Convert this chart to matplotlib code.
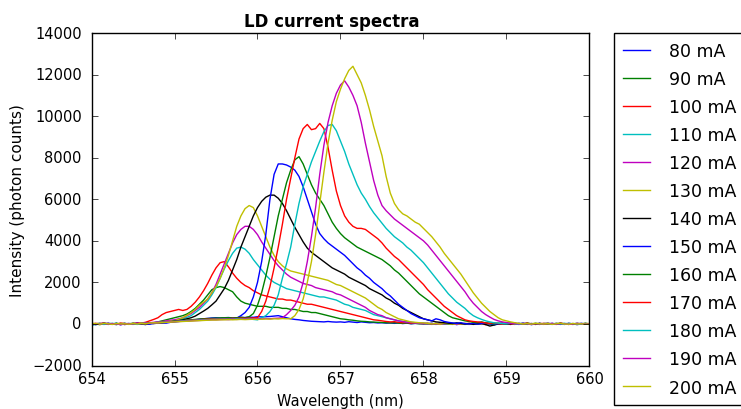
import numpy as np
import matplotlib
matplotlib.use("Agg")
import matplotlib.pyplot as plt

# Wavelength grid (nm), 0.05 nm steps from 654 to 660
wavelength = np.round(np.arange(654.0, 660.0001, 0.05), 2)

currents = ["80 mA", "90 mA", "100 mA", "110 mA", "120 mA", "130 mA", "140 mA",
            "150 mA", "160 mA", "170 mA", "180 mA", "190 mA", "200 mA"]

# Measured intensities (photon counts), one list per drive current
i80 = [20, -30, 10, 40, -20, 0, 30, -40, 10, 20,
       -10, 30, 0, -30, 20, 50, 30, 60, 40, 80,
       100, 120, 150, 130, 180, 200, 230, 250, 270, 290,
       300, 290, 300, 310, 290, 300, 320, 310, 330, 320,
       350, 340, 350, 360, 380, 400, 350, 300, 250, 220,
       200, 170, 150, 130, 120, 110, 100, 120, 100, 90,
       100, 80, 110, 90, 70, 100, 80, 60, 70, 50,
       60, 40, 50, 30, 50, 20, 40, 10, 30, 20,
       0, 20, -20, 10, 30, -10, 0, 20, -30, 10,
       0, -20, 30, 10, -10, 20, 0, -40, 10, 30,
       0, -20, 10, 30, -10, 20, -30, 0, 20, -10,
       10, -20, 30, 0, -10, 20, 10, -30, 0, 20,
       0]
i90 = [-20, 10, 30, -10, 20, 0, -30, 20, 10, -10,
       30, 0, 20, 40, 10, 60, 100, 150, 200, 250,
       300, 350, 400, 480, 600, 750, 950, 1150, 1400, 1650,
       1750, 1800, 1750, 1650, 1550, 1300, 1100, 1000, 950, 900,
       850, 850, 850, 800, 800, 800, 750, 750, 700, 700,
       650, 600, 600, 550, 550, 500, 450, 400, 350, 300,
       250, 230, 200, 180, 150, 130, 120, 100, 90, 80,
       70, 60, 50, 60, 40, 30, 50, 20, 30, 10,
       20, 0, 30, -20, 10, 20, -10, 0, 30, 10,
       -20, 10, 30, 0, -10, 20, 10, -20, 0, 30,
       10, -10, 20, 0, 30, -20, 10, 0, -10, 20,
       30, 0, -20, 10, 20, -10, 0, 30, 10, -10,
       10]
i100 = [30, -10, 20, 40, 0, -20, 10, 30, 20, 0,
        20, 50, 40, 80, 150, 220, 300, 450, 550, 600,
        650, 700, 650, 700, 850, 1050, 1300, 1600, 1950, 2350,
        2700, 2950, 3000, 2750, 2450, 2200, 2000, 1850, 1750, 1600,
        1500, 1400, 1350, 1300, 1250, 1200, 1200, 1150, 1150, 1100,
        1050, 1000, 950, 950, 900, 850, 800, 750, 700, 650,
        600, 550, 500, 450, 400, 350, 300, 250, 200, 180,
        150, 120, 100, 110, 80, 60, 70, 40, 50, 30,
        20, 40, 0, 30, -20, 10, 30, 0, 20, -10,
        10, 30, -10, 20, 0, -30, 10, 20, 0, -10,
        20, 0, 30, -10, 10, 40, 0, -20, 10, 30,
        0, 20, -10, 30, 10, 0, 20, -20, 10, 0,
        20]
i110 = [-50, -30, 0, 20, -20, 10, 30, -10, 0, 20,
        10, -20, 30, 0, 40, 60, 80, 100, 120, 140,
        150, 200, 250, 320, 400, 550, 700, 900, 1100, 1400,
        1750, 2200, 2650, 3050, 3400, 3650, 3700, 3600, 3400, 3100,
        2850, 2600, 2350, 2150, 2000, 1900, 1800, 1700, 1650, 1600,
        1550, 1500, 1450, 1400, 1350, 1300, 1300, 1250, 1200, 1150,
        1050, 950, 900, 800, 750, 700, 650, 550, 450, 400,
        350, 300, 250, 200, 150, 120, 100, 80, 60, 50,
        40, 20, 30, 0, 20, -10, 10, 30, 0, 20,
        -10, 10, 20, 0, -20, 10, 30, 0, -10, 20,
        0, 20, -10, 10, 30, 0, -20, 10, 20, 0,
        10, -10, 20, 0, 30, 10, -20, 0, 20, 10,
        0]
i120 = [0, 20, -20, 10, 30, -10, 0, 20, -30, 10,
        20, 0, 30, 50, 60, 80, 100, 120, 150, 180,
        200, 250, 300, 400, 500, 650, 800, 1000, 1200, 1500,
        1900, 2400, 2900, 3400, 3900, 4300, 4550, 4700, 4700, 4550,
        4300, 3950, 3650, 3350, 3050, 2800, 2600, 2400, 2250, 2150,
        2050, 1950, 1900, 1850, 1750, 1700, 1650, 1600, 1550, 1450,
        1400, 1300, 1200, 1100, 1000, 900, 800, 650, 550, 450,
        400, 300, 250, 200, 150, 120, 90, 70, 50, 40,
        30, 10, 30, -10, 20, 0, 30, 10, -20, 10,
        20, 0, -10, 30, 10, -20, 0, 20, 10, -10,
        0, 30, 10, -20, 10, 0, 20, -10, 30, 0,
        -10, 20, 0, 10, -20, 30, 0, 10, -10, 20,
        0]
i130 = [40, 10, -20, 30, 0, 20, -10, 30, 10, 0,
        -20, 10, 30, 40, 20, 50, 70, 90, 110, 130,
        150, 220, 300, 420, 550, 700, 900, 1050, 1200, 1500,
        1800, 2200, 2700, 3300, 4000, 4700, 5200, 5550, 5700, 5600,
        5200, 4700, 4200, 3700, 3300, 3000, 2800, 2650, 2550, 2500,
        2450, 2400, 2350, 2300, 2250, 2200, 2150, 2100, 2000, 1900,
        1850, 1750, 1650, 1550, 1450, 1350, 1250, 1100, 950, 800,
        700, 550, 450, 350, 250, 200, 150, 100, 80, 60,
        50, 30, 0, 20, -10, 30, 10, -20, 20, 0,
        30, 10, -10, 20, 0, 30, -20, 10, 0, 20,
        -10, 10, 30, 0, 20, -10, 10, 40, 0, -20,
        20, 0, 30, 10, -10, 20, 0, -20, 10, 30,
        10]
i140 = [10, -20, 0, 30, 10, -10, 20, 0, 30, -10,
        0, 20, 10, -20, 30, 20, 40, 60, 80, 100,
        130, 160, 200, 250, 300, 380, 500, 620, 750, 920,
        1100, 1400, 1700, 2100, 2600, 3100, 3700, 4200, 4700, 5200,
        5600, 5900, 6100, 6200, 6200, 6050, 5800, 5450, 5050, 4650,
        4300, 3950, 3650, 3450, 3300, 3150, 3000, 2850, 2700, 2600,
        2500, 2400, 2250, 2150, 2050, 1950, 1850, 1700, 1600, 1500,
        1400, 1250, 1150, 1000, 900, 750, 650, 550, 450, 350,
        250, 200, 150, 100, 80, 60, 40, 20, 50, 30,
        0, 20, -20, 10, 30, -30, -100, -50, 0, 20,
        10, -20, 30, 0, 10, -10, 20, 0, -20, 10,
        20, 0, -10, 30, 0, 10, -20, 20, 0, 10,
        -10]
i150 = [-40, 0, 20, -10, 30, 10, -20, 0, 20, -10,
        10, 30, 0, 20, -10, 30, 50, 60, 80, 100,
        120, 130, 150, 170, 180, 200, 200, 220, 230, 240,
        250, 240, 250, 260, 250, 280, 400, 550, 800, 1300,
        2000, 3000, 4300, 6000, 7200, 7700, 7700, 7650, 7550, 7400,
        7100, 6600, 6000, 5400, 4800, 4350, 4100, 3900, 3750, 3600,
        3450, 3300, 3100, 2900, 2700, 2550, 2350, 2200, 2000, 1850,
        1700, 1500, 1350, 1150, 950, 800, 650, 500, 400, 300,
        250, 200, 150, 250, 200, 120, 80, 50, 30, 60,
        20, 0, 30, -10, 20, 40, 0, -20, 10, 30,
        0, 20, -10, 10, 30, 0, -20, 10, 20, -10,
        10, 30, 0, -20, 10, 20, 0, -10, 30, 0,
        10]
i160 = [20, 0, -30, 10, 20, -10, 30, 0, -20, 10,
        30, 10, -10, 20, 40, 30, 60, 70, 90, 110,
        130, 150, 170, 190, 200, 220, 240, 250, 260, 270,
        280, 290, 300, 300, 290, 300, 320, 300, 350, 500,
        900, 1500, 2300, 3200, 4200, 5200, 6000, 6800, 7400, 7900,
        8050, 7700, 7200, 6700, 6300, 6000, 5700, 5300, 4900, 4600,
        4350, 4150, 4000, 3850, 3700, 3600, 3500, 3400, 3300, 3200,
        3100, 2950, 2800, 2600, 2450, 2250, 2050, 1850, 1650, 1450,
        1300, 1150, 1000, 850, 700, 550, 400, 300, 250, 200,
        150, 120, 80, 60, 100, 50, 30, 0, 40, 20,
        0, 30, -10, 20, 0, 40, 10, -20, 30, 0,
        20, -10, 10, 30, 0, -20, 20, 10, 0, 30,
        10]
i170 = [0, 30, 10, -20, 20, 0, -10, 30, 10, -20,
        20, 0, 30, 10, 40, 50, 60, 80, 90, 110,
        120, 140, 150, 170, 180, 200, 210, 220, 230, 240,
        250, 250, 260, 250, 270, 260, 280, 270, 280, 290,
        300, 600, 1100, 1800, 2700, 3700, 4800, 6000, 7000, 8000,
        8900, 9400, 9600, 9350, 9400, 9650, 9400, 8500, 7400, 6400,
        5700, 5200, 4900, 4700, 4600, 4600, 4550, 4400, 4250, 4100,
        3900, 3650, 3450, 3250, 3100, 2900, 2700, 2500, 2300, 2100,
        1900, 1650, 1450, 1250, 1050, 850, 700, 550, 400, 300,
        200, 150, 120, 100, 80, 50, 30, 60, 20, 0,
        30, 10, -20, 20, 0, 30, -10, 10, 20, 0,
        -10, 20, 0, 30, 10, -20, 10, 0, 20, -10,
        10]
i180 = [-30, 0, 20, -20, 10, 30, 0, -10, 20, 10,
        0, -20, 30, 20, 40, 50, 70, 80, 100, 110,
        120, 130, 150, 160, 170, 180, 190, 200, 210, 220,
        230, 230, 240, 230, 240, 250, 250, 240, 250, 220,
        200, 300, 400, 600, 900, 1400, 2200, 2900, 3700, 4800,
        5800, 6600, 7200, 7800, 8300, 8800, 9250, 9550, 9600, 9300,
        8800, 8300, 7700, 7200, 6700, 6300, 6000, 5650, 5350, 5100,
        4850, 4600, 4400, 4200, 4050, 3900, 3700, 3550, 3350, 3150,
        2950, 2700, 2450, 2200, 1950, 1700, 1450, 1250, 1050, 900,
        750, 550, 400, 300, 220, 150, 100, 60, 40, 20,
        10, 40, 0, -20, 20, 10, -10, 30, 0, 20,
        10, -10, 20, 0, -20, 30, 10, 0, -10, 20,
        0]
i190 = [10, -20, 0, 30, -10, 20, 0, -30, 10, 20,
        0, 30, 10, 40, 30, 50, 60, 70, 90, 100,
        110, 120, 130, 140, 150, 160, 170, 180, 190, 200,
        200, 210, 220, 210, 230, 220, 230, 240, 230, 250,
        250, 240, 260, 250, 270, 280, 300, 450, 650, 900,
        1300, 2000, 3000, 4200, 5600, 7200, 8600, 9700, 10500, 11100,
        11500, 11700, 11400, 11000, 10500, 9700, 8700, 7800, 6900, 6200,
        5700, 5450, 5250, 5050, 4900, 4750, 4600, 4450, 4300, 4150,
        4000, 3800, 3550, 3300, 3050, 2800, 2550, 2300, 2050, 1800,
        1550, 1250, 1000, 800, 600, 450, 330, 220, 150, 100,
        70, 40, 20, 0, 30, 10, -20, 20, 0, 10,
        30, 0, -10, 20, 10, -20, 0, 30, 10, 0,
        20]
i200 = [0, 20, -10, 30, 10, -20, 20, 0, 10, -10,
        20, 0, 30, 10, 40, 60, 50, 70, 80, 90,
        100, 110, 120, 130, 140, 150, 160, 170, 180, 190,
        190, 200, 200, 210, 200, 210, 220, 210, 220, 230,
        220, 230, 240, 230, 250, 240, 260, 250, 250, 400,
        700, 1200, 2000, 3000, 4300, 5800, 7300, 8700, 9800, 10700,
        11300, 11800, 12200, 12400, 12000, 11600, 11000, 10300, 9500, 8800,
        8100, 7100, 6300, 5800, 5500, 5300, 5200, 5050, 4900, 4800,
        4600, 4400, 4200, 3950, 3700, 3400, 3150, 2900, 2650, 2400,
        2100, 1800, 1500, 1250, 1000, 800, 600, 450, 300, 200,
        150, 100, 60, 30, 0, 20, -10, 30, 10, 0,
        20, -20, 10, 30, 0, -10, 20, 0, 10, -10,
        0]

spectra = [i80, i90, i100, i110, i120, i130, i140,
           i150, i160, i170, i180, i190, i200]

x_ticks = [654, 655, 656, 657, 658, 659, 660]
y_ticks = [-2000, 0, 2000, 4000, 6000, 8000, 10000, 12000, 14000]

plt.style.use("classic")
plt.rcParams["figure.facecolor"] = "white"
plt.rcParams["savefig.facecolor"] = "white"
plt.rcParams["font.family"] = ["DejaVu Sans"]

fig = plt.figure(figsize=(7.41, 4.10), dpi=100)
ax = fig.add_axes([0.1235, 0.106, 0.672, 0.811])

for label, counts in zip(currents, spectra):
    ax.plot(wavelength, counts, linewidth=1.0, label=label)

ax.set_xlim(654, 660)
ax.set_ylim(-2000, 14000)
ax.set_xticks(x_ticks)
ax.set_yticks(y_ticks)
ax.tick_params(labelsize=10.5)
ax.tick_params(axis="y", pad=7)
ax.set_xlabel("Wavelength (nm)", fontsize=10.5)
ax.set_ylabel("Intensity (photon counts)", fontsize=11)
ax.set_title("LD current spectra", fontsize=12, fontweight="bold", x=0.482)

ax.legend(bbox_to_anchor=(1.05, 1), loc="upper left", borderaxespad=0,
          fontsize=12.5, labelspacing=0.58, handlelength=1.55,
          handletextpad=1.1, borderpad=0.5, numpoints=1, fancybox=False)

fig.savefig("out.png", dpi=100)
